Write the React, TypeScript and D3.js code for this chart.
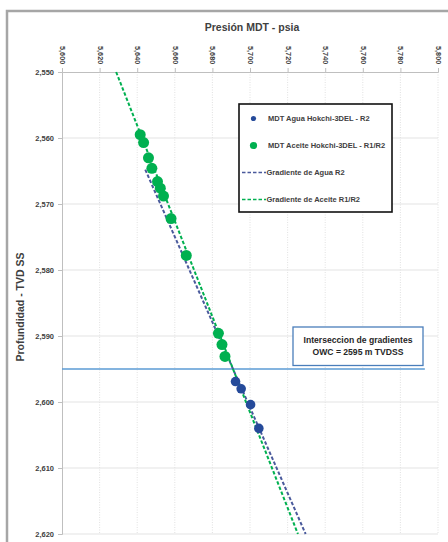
import { useEffect, useRef } from "react";
import * as d3 from "d3";

// Puntos MDT (presión psia, profundidad m TVDSS)
const aguaPresion = [5692.3, 5695.3, 5700.3, 5704.7];
const aguaProf = [2596.9, 2598.0, 2600.4, 2604.0];

const aceitePresion = [5641.6, 5643.4, 5646.0, 5647.8, 5650.8, 5652.3, 5654.0, 5658.0, 5666.1, 5683.2, 5685.1, 5686.7];
const aceiteProf = [2559.5, 2560.7, 2563.0, 2564.6, 2566.6, 2567.6, 2568.8, 2572.2, 2577.8, 2589.6, 2591.3, 2593.1];

// Gradientes (extremos de las rectas)
const gradAguaPresion = [5644.3, 5729.6];
const gradAguaProf = [2564.8, 2620];
const gradAceitePresion = [5628.8, 5725.5];
const gradAceiteProf = [2550, 2620];

const owcProf = 2595;
const owcPresion = [5600, 5793];

const xTicks = [5600, 5620, 5640, 5660, 5680, 5700, 5720, 5740, 5760, 5780, 5800];
const yTicks = [2550, 2560, 2570, 2580, 2590, 2600, 2610, 2620];

const legendItems = [
  { label: "MDT Agua Hokchi-3DEL - R2", type: "dot", color: "#254a9a", r: 2.6 },
  { label: "MDT Aceite Hokchi-3DEL - R1/R2", type: "dot", color: "#00b050", r: 3.6 },
  { label: "Gradiente de Agua R2", type: "line", color: "#4a5a9c" },
  { label: "Gradiente de Aceite R1/R2", type: "line", color: "#00b050" },
];

const FONT = "'Liberation Sans', Arial, sans-serif";

export default function App() {
  const svgRef = useRef<SVGSVGElement>(null);

  useEffect(() => {
    const svg = d3.select(svgRef.current);
    svg.selectAll("*").remove();

    const W = 448;
    const H = 542;
    const m = { top: 72, left: 62, right: 438, bottom: 534 };

    svg.attr("width", W).attr("height", H).style("font-family", FONT);

    svg.append("rect").attr("width", W).attr("height", H).attr("fill", "#ffffff");
    // marco exterior
    svg.append("rect")
      .attr("x", 7).attr("y", 11)
      .attr("width", 480).attr("height", 600)
      .attr("fill", "none").attr("stroke", "#a6a6a6").attr("stroke-width", 2.5);

    const x = d3.scaleLinear().domain([5600, 5800]).range([m.left, m.right]);
    const y = d3.scaleLinear().domain([2550, 2620]).range([m.top, m.bottom]);

    // rejilla
    svg.append("g").selectAll("line")
      .data(xTicks.slice(1))
      .enter().append("line")
      .attr("x1", d => x(d)).attr("x2", d => x(d))
      .attr("y1", m.top).attr("y2", m.bottom)
      .attr("stroke", "#d9d9d9").attr("stroke-width", 0.8)
      .attr("stroke-dasharray", "1,1.5");

    svg.append("g").selectAll("line")
      .data(yTicks.slice(1))
      .enter().append("line")
      .attr("x1", m.left).attr("x2", m.right)
      .attr("y1", d => y(d)).attr("y2", d => y(d))
      .attr("stroke", "#e3e3e3").attr("stroke-width", 1);

    // ejes
    const axTop = svg.append("g")
      .attr("transform", `translate(0,${m.top})`)
      .call(d3.axisTop(x).tickValues(xTicks).tickSize(4).tickFormat(d3.format(",")));
    axTop.select(".domain").attr("stroke", "#bfbfbf");
    axTop.selectAll(".tick line").attr("stroke", "#bfbfbf");
    axTop.selectAll(".tick text")
      .attr("transform", "rotate(90)")
      .attr("x", -26).attr("y", 0).attr("dy", "0.35em")
      .attr("text-anchor", "start")
      .attr("fill", "#404040")
      .style("font-size", "7.3px").style("font-weight", "bold").style("font-family", FONT);

    const axLeft = svg.append("g")
      .attr("transform", `translate(${m.left},0)`)
      .call(d3.axisLeft(y).tickValues(yTicks).tickSize(4).tickFormat(d3.format(",")));
    axLeft.select(".domain").attr("stroke", "#bfbfbf");
    axLeft.selectAll(".tick line").attr("stroke", "#bfbfbf");
    axLeft.selectAll(".tick text")
      .attr("x", -8)
      .attr("fill", "#404040")
      .style("font-size", "7.5px").style("font-weight", "bold").style("font-family", FONT);

    // títulos
    svg.append("text")
      .attr("x", 252).attr("y", 31)
      .attr("text-anchor", "middle")
      .attr("font-weight", "bold").attr("font-size", 10.5)
      .attr("fill", "#404040")
      .text("Presión MDT - psia");

    svg.append("text")
      .attr("transform", "translate(24,307) rotate(-90)")
      .attr("text-anchor", "middle")
      .attr("font-weight", "bold").attr("font-size", 10.5)
      .attr("fill", "#404040")
      .text("Profundidad  - TVD SS");

    // línea OWC
    svg.append("line")
      .attr("x1", x(owcPresion[0])).attr("x2", x(owcPresion[1]))
      .attr("y1", y(owcProf)).attr("y2", y(owcProf))
      .attr("stroke", "#5b9bd5").attr("stroke-width", 1.3);

    // gradientes
    const line = d3.line<[number, number]>().x(d => x(d[0])).y(d => y(d[1]));
    svg.append("path")
      .attr("d", line(d3.zip(gradAguaPresion, gradAguaProf) as [number, number][]))
      .attr("fill", "none").attr("stroke", "#4a5a9c").attr("stroke-width", 2)
      .attr("stroke-dasharray", "3.5,2");
    svg.append("path")
      .attr("d", line(d3.zip(gradAceitePresion, gradAceiteProf) as [number, number][]))
      .attr("fill", "none").attr("stroke", "#00b050").attr("stroke-width", 2)
      .attr("stroke-dasharray", "3.5,2");

    // puntos
    svg.append("g").selectAll("circle")
      .data(d3.zip(aceitePresion, aceiteProf))
      .enter().append("circle")
      .attr("cx", d => x(d[0])).attr("cy", d => y(d[1]))
      .attr("r", 5.5).attr("fill", "#00b050");

    svg.append("g").selectAll("circle")
      .data(d3.zip(aguaPresion, aguaProf))
      .enter().append("circle")
      .attr("cx", d => x(d[0])).attr("cy", d => y(d[1]))
      .attr("r", 4.8).attr("fill", "#254a9a");

    // leyenda
    const lg = svg.append("g").attr("transform", "translate(239,104)");
    lg.append("rect")
      .attr("width", 153).attr("height", 108)
      .attr("fill", "#ffffff").attr("stroke", "#111").attr("stroke-width", 1.6);
    legendItems.forEach((it, i) => {
      const cy = 14.5 + i * 27;
      if (it.type === "dot") {
        lg.append("circle").attr("cx", 14.5).attr("cy", cy).attr("r", it.r as number).attr("fill", it.color);
      } else {
        lg.append("line")
          .attr("x1", 3).attr("x2", 27).attr("y1", cy).attr("y2", cy)
          .attr("stroke", it.color).attr("stroke-width", 1.6)
          .attr("stroke-dasharray", "3.5,2");
      }
      lg.append("text")
        .attr("x", it.type === "dot" ? 29 : 27.5).attr("y", cy).attr("dy", "0.35em")
        .attr("font-size", 7.5).attr("font-weight", "bold").attr("fill", "#404040")
        .text(it.label);
    });

    // caja de anotación
    const ann = svg.append("g").attr("transform", "translate(293,327)");
    ann.append("rect")
      .attr("width", 130).attr("height", 38.5)
      .attr("fill", "#ffffff").attr("stroke", "#4a7ebb").attr("stroke-width", 1.3);
    ann.append("text")
      .attr("x", 65).attr("y", 15.5).attr("text-anchor", "middle")
      .attr("font-size", 8.6).attr("font-weight", "bold").attr("fill", "#262626")
      .text("Interseccion de gradientes");
    ann.append("text")
      .attr("x", 65).attr("y", 27.5).attr("text-anchor", "middle")
      .attr("font-size", 8.6).attr("font-weight", "bold").attr("fill", "#262626")
      .text("OWC = 2595 m TVDSS");
  }, []);

  return <svg ref={svgRef} style={{ position: "absolute", left: 0, top: 0, display: "block" }} />;
}
